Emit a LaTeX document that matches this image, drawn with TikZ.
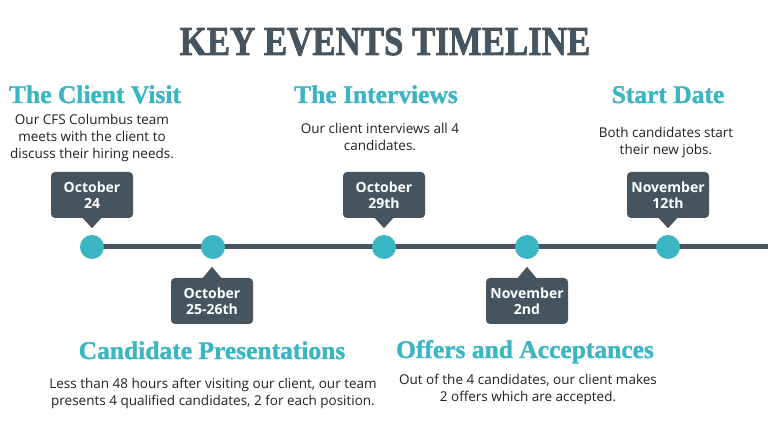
\documentclass[tikz,border=0pt]{standalone}
\usepackage{graphicx}
\usepackage{fontspec}
\setmainfont{Open Sans}
\newfontfamily\headfont[FakeBold=1.2]{Liberation Serif}
\newfontfamily\titlefont[FakeBold=2]{Liberation Serif}
\definecolor{slate}{HTML}{45545F}
\definecolor{tealc}{HTML}{3AB5C4}
\definecolor{bodytxt}{HTML}{222222}
\begin{document}
\begin{tikzpicture}[x=1pt,y=-1pt,
  datebox/.style={fill=slate, rounded corners=4pt, minimum width=82pt, minimum height=46pt,
    text=white, font=\bfseries\fontsize{14}{16}\selectfont, align=center, inner sep=0pt},
  dot/.style={circle, fill=tealc, minimum size=24pt, inner sep=0pt},
  heading/.style={font=\headfont\bfseries\fontsize{25.5}{27}\selectfont, text=tealc, anchor=base, inner sep=0pt},
  body/.style={font=\fontsize{13.5}{17}\selectfont, text=bodytxt, align=center, anchor=base, inner sep=0pt},
  titletext/.style={font=\titlefont\bfseries\fontsize{41}{44}\selectfont, text=slate, anchor=base, inner sep=0pt},
  tipfill/.style={fill=slate}
]
\useasboundingbox (0,0) rectangle (768,443);
\fill[white] (0,0) rectangle (768,443);

\node[titletext] (title) at (385,55) {\scalebox{0.85}[1]{KEY EVENTS TIMELINE}};

% timeline
\coordinate (lineend) at (768,247);
\coordinate (c1c) at (92,247);
\draw[slate, line width=5pt] (c1c) -- (lineend);
\node[dot] (c1) at (92,247) {};
\node[dot] (c2) at (213,247) {};
\node[dot] (c3) at (384,247) {};
\node[dot] (c4) at (527,247) {};
\node[dot] (c5) at (668,247) {};

% date boxes
\node[datebox] (d1) at (92,195) {October\\24};
\node[datebox] (d2) at (212,301) {October\\25-26th};
\node[datebox] (d3) at (384,195) {October\\29th};
\node[datebox] (d4) at (527,301) {November\\2nd};
\node[datebox] (d5) at (668,195) {November\\12th};

\fill[tipfill] ([xshift=-10pt,yshift=1pt]d1.south) -- ([xshift=10pt,yshift=1pt]d1.south) -- ([yshift=-10pt]d1.south) -- cycle;
\fill[tipfill] ([xshift=-10pt,yshift=1pt]d3.south) -- ([xshift=10pt,yshift=1pt]d3.south) -- ([yshift=-10pt]d3.south) -- cycle;
\fill[tipfill] ([xshift=-10pt,yshift=1pt]d5.south) -- ([xshift=10pt,yshift=1pt]d5.south) -- ([yshift=-10pt]d5.south) -- cycle;
\fill[tipfill] ([xshift=-10pt,yshift=-1pt]d2.north) -- ([xshift=10pt,yshift=-1pt]d2.north) -- ([yshift=11pt]d2.north) -- cycle;
\fill[tipfill] ([xshift=-10pt,yshift=-1pt]d4.north) -- ([xshift=10pt,yshift=-1pt]d4.north) -- ([yshift=11pt]d4.north) -- cycle;

% headings
\node[heading] (h1) at (95,103) {The Client Visit};
\node[heading] (h3) at (376,103) {The Interviews};
\node[heading] (h5) at (668,103) {Start Date};
\node[heading] (h2) at (212,359) {Candidate Presentations};
\node[heading] (h4) at (525,358) {Offers and Acceptances};

% bodies (anchor = baseline of last line)
\node[body] (b1) at (92,159) {Our CFS Columbus team\\meets with the client to\\discuss their hiring needs.};
\node[body] (b3) at (380,151) {Our client interviews all 4\\candidates.};
\node[body] (b5) at (666,155) {Both candidates start\\their new jobs.};
\node[body] (b2) at (213,405) {Less than 48 hours after visiting our client, our team\\presents 4 qualified candidates, 2 for each position.};
\node[body] (b4) at (528,401) {Out of the 4 candidates, our client makes\\2 offers which are accepted.};
\end{tikzpicture}
\end{document}
